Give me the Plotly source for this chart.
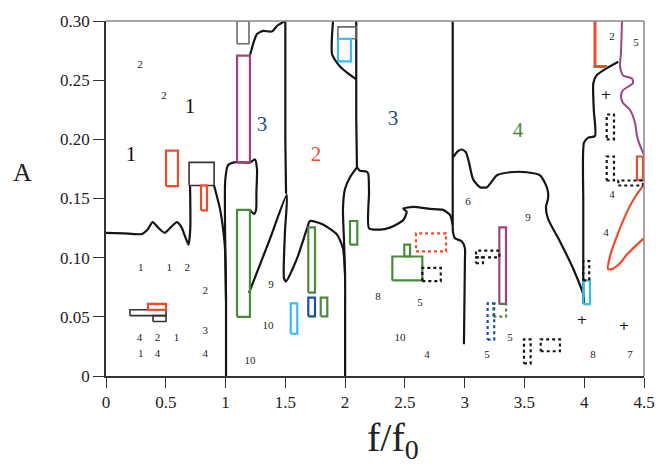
import plotly.graph_objects as go

# ---------------- data (in axis units) ----------------
x_ticks = [0, 0.5, 1, 1.5, 2, 2.5, 3, 3.5, 4, 4.5]
x_ticktext = ["0", "0.5", "1", "1.5", "2", "2.5", "3", "3.5", "4", "4.5"]
y_ticks = [0, 0.05, 0.10, 0.15, 0.20, 0.25, 0.30]
y_ticktext = ["0", "0.05", "0.10", "0.15", "0.20", "0.25", "0.30"]

# black boundary curves
c_left_x = [0, 0.15, 0.30, 0.35, 0.39, 0.44, 0.49, 0.545, 0.594, 0.63, 0.665, 0.69, 0.705, 0.703]
c_left_y = [0.121, 0.1205, 0.120, 0.124, 0.130, 0.125, 0.121, 0.126, 0.130, 0.126, 0.117, 0.111, 0.125, 0.161]
c_one_x = [0.904, 0.954, 0.979, 0.995, 1.004, 1.004]
c_one_y = [0.161, 0.141, 0.1245, 0.108, 0.0635, 0]
c_loop_x = [1.004, 0.996, 0.997, 1.02, 1.07, 1.204, 1.246, 1.263, 1.258, 1.256, 1.238, 1.204]
c_loop_y = [0.0635, 0.122, 0.165, 0.178, 0.1805, 0.1805, 0.183, 0.1745, 0.155, 0.141, 0.137, 0.1404]
c_top1_x = [1.204, 1.238, 1.263, 1.313, 1.371, 1.396, 1.43, 1.455, 1.497]
c_top1_y = [0.2708, 0.283, 0.289, 0.2917, 0.291, 0.2917, 0.2958, 0.2975, 0.30]
c_v15_x = [1.50, 1.50, 1.506]
c_v15_y = [0.30, 0.20, 0.154]
c_mid_x = [1.196, 1.372, 1.512, 1.497, 1.489, 1.506, 1.598, 1.681, 1.706, 1.815, 1.932, 1.982, 1.999, 2.0, 2.0]
c_mid_y = [0.0702, 0.116, 0.153, 0.122, 0.0827, 0.080, 0.0994, 0.1245, 0.131, 0.128, 0.1195, 0.108, 0.086, 0.05, 0]
c_top2_x = [1.899, 1.890, 1.890, 1.924, 1.957, 2.024, 2.093]
c_top2_y = [0.30, 0.2866, 0.2724, 0.2658, 0.2616, 0.2557, 0.2507]
c_v21_x = [2.093, 2.093, 2.099]
c_v21_y = [0.30, 0.22, 0.1763]
c_brA_x = [2.099, 2.041, 1.999, 1.982, 1.991, 2.0]
c_brA_y = [0.1763, 0.168, 0.158, 0.1412, 0.1137, 0.086]
c_brB_x = [2.099, 2.124, 2.18, 2.194, 2.200, 2.200, 2.292, 2.375, 2.442, 2.487, 2.515, 2.487, 2.57, 2.710, 2.819, 2.877, 2.90]
c_brB_y = [0.1763, 0.1735, 0.1727, 0.1707, 0.155, 0.1248, 0.1237, 0.1254, 0.1287, 0.1318, 0.1387, 0.1415, 0.1429, 0.1412, 0.1404, 0.1362, 0.128]
c_v29_x = [2.90, 2.90, 2.90, 2.902, 2.919, 2.977, 3.002, 3.002, 2.994]
c_v29_y = [0.30, 0.185, 0.135, 0.122, 0.1164, 0.1137, 0.108, 0.097, 0.0268]
c_wave_x = [2.902, 2.944, 2.977, 3.011, 3.036, 3.07, 3.128, 3.187, 3.27, 3.379, 3.521, 3.63, 3.68, 3.697, 3.697,
            3.68, 3.697, 3.797, 3.906, 3.99, 3.998]
c_wave_y = [0.1847, 0.190, 0.1914, 0.1889, 0.1805, 0.1663, 0.1596, 0.1596, 0.1696, 0.1722, 0.1722, 0.1696, 0.1613,
            0.1554, 0.1496, 0.1429, 0.1329, 0.1137, 0.0911, 0.0694, 0.0618]
c_four_x = [4.285, 4.188, 4.104, 4.076, 4.08, 4.09, 4.034, 3.998, 3.992, 3.992]
c_four_y = [0.2655, 0.260, 0.2543, 0.2474, 0.225, 0.2028, 0.2014, 0.1972, 0.147, 0.0611]

# coloured curves
purple_curve_x = [4.316, 4.307, 4.299, 4.324, 4.399, 4.408, 4.324, 4.307, 4.324, 4.383, 4.425, 4.441, 4.467, 4.5]
purple_curve_y = [0.30, 0.2724, 0.2616, 0.254, 0.2515, 0.2474, 0.2415, 0.2365, 0.2307, 0.2248, 0.2139, 0.2031, 0.1947, 0.187]
red_corner_x = [4.09, 4.09, 4.19]
red_corner_y = [0.30, 0.2616, 0.2616]
red_curve_x = [4.5, 4.425, 4.358, 4.257, 4.215, 4.199, 4.232, 4.299, 4.358, 4.5]
red_curve_y = [0.162, 0.1513, 0.1387, 0.1137, 0.1011, 0.0903, 0.0903, 0.0953, 0.1028, 0.1165]

# boxes (x0, x1, y0, y1)
red_boxes = [(0.502, 0.602, 0.1605, 0.1905), (0.795, 0.845, 0.140, 0.161),
             (0.351, 0.502, 0.056, 0.061), (4.441, 4.491, 0.1655, 0.1855)]
black_boxes = [(0.695, 0.904, 0.161, 0.1805), (0.20, 0.502, 0.051, 0.056), (0.393, 0.502, 0.046, 0.051)]
grey_boxes = [(1.096, 1.196, 0.2808, 0.30), (1.94, 2.091, 0.285, 0.295)]
purple_boxes = [(1.096, 1.204, 0.1805, 0.2708), (3.29, 3.346, 0.061, 0.1256)]
green_boxes = [(1.096, 1.204, 0.050, 0.1404), (1.692, 1.748, 0.0705, 0.1256), (2.041, 2.102, 0.111, 0.131),
               (1.796, 1.851, 0.0504, 0.0663), (2.395, 2.646, 0.0808, 0.101), (2.495, 2.543, 0.101, 0.111)]
blue_boxes = [(1.692, 1.748, 0.0504, 0.0663)]
cyan_boxes = [(1.545, 1.60, 0.0357, 0.0613), (1.94, 2.049, 0.2658, 0.285), (3.992, 4.048, 0.0608, 0.0808)]
red_dot_boxes = [(2.593, 2.844, 0.1053, 0.1206)]
black_dot_boxes = [(2.646, 2.80, 0.0802, 0.0913), (3.095, 3.29, 0.1003, 0.1059), (3.095, 3.153, 0.0953, 0.1003),
                   (3.496, 3.552, 0.0106, 0.031), (3.636, 3.797, 0.0209, 0.031), (3.992, 4.042, 0.0808, 0.097),
                   (4.188, 4.249, 0.200, 0.221), (4.188, 4.249, 0.1652, 0.1855), (4.285, 4.491, 0.161, 0.1652)]
green_dot_boxes = [(3.24, 3.346, 0.0501, 0.061)]
blue_dot_boxes = [(3.192, 3.247, 0.0307, 0.0613)]

# labels
small_lab_x = [0.284, 0.485, 0.29, 0.53, 0.68, 0.83, 0.83, 0.28, 0.43, 0.59, 0.29, 0.43, 0.83, 1.38, 1.355, 1.204,
               2.275, 2.626, 2.459, 2.685, 3.028, 3.53, 3.379, 3.187, 4.073, 4.383, 4.182, 4.232, 4.232, 4.433]
small_lab_y = [0.2624, 0.2365, 0.0913, 0.0913, 0.0913, 0.072, 0.0376, 0.032, 0.032, 0.032, 0.018, 0.018, 0.018,
               0.0769, 0.0418, 0.0125, 0.0669, 0.0618, 0.0318, 0.0175, 0.147, 0.133, 0.0318, 0.0175, 0.0175,
               0.0175, 0.121, 0.153, 0.2866, 0.281]
small_lab_t = ["2", "2", "1", "1", "2", "2", "3", "4", "2", "1", "1", "4", "4", "9", "10", "10",
               "8", "5", "10", "4", "6", "9", "5", "5", "8", "7", "4", "4", "2", "5"]
plus_x = [4.182, 3.98, 4.333]
plus_y = [0.2365, 0.0468, 0.0418]
plus_t = ["+", "+", "+"]
big_lab_x = [0.703, 0.209, 1.305, 1.756, 2.40, 3.446]
big_lab_y = [0.2265, 0.1864, 0.2114, 0.1864, 0.2165, 0.2064]
big_lab_t = ["1", "1", "3", "2", "3", "4"]
big_lab_c = ["#111111", "#111111", "#1a4fa0", "#ee4b2b", "#1a4fa0", "#4b8a3c"]

# ---------------- figure ----------------
FONT = "Liberation Serif, Times New Roman, serif"
BLACK = "#151515"
RED = "#ee4b2b"
PURPLE = "#9e437c"
GREEN = "#4b8a3c"
BLUE = "#1a4fa0"
CYAN = "#37bde8"
GREY = "#6a6a6a"

fig = go.Figure()


def add_curve(xs, ys, color=BLACK, width=2.2, smooth=0.6):
    fig.add_trace(go.Scatter(x=xs, y=ys, mode="lines", hoverinfo="skip",
                             line=dict(color=color, width=width, shape="spline", smoothing=smooth)))


def add_boxes(boxes, color, dash="solid", width=2.2):
    xs, ys = [], []
    for (x0, x1, y0, y1) in boxes:
        xs += [x0, x1, x1, x0, x0, None]
        ys += [y0, y0, y1, y1, y0, None]
    fig.add_trace(go.Scatter(x=xs, y=ys, mode="lines", hoverinfo="skip",
                             line=dict(color=color, width=width, dash=dash)))


for cx, cy in [(c_left_x, c_left_y), (c_one_x, c_one_y), (c_loop_x, c_loop_y), (c_top1_x, c_top1_y),
               (c_v15_x, c_v15_y), (c_mid_x, c_mid_y), (c_top2_x, c_top2_y), (c_v21_x, c_v21_y),
               (c_brA_x, c_brA_y), (c_brB_x, c_brB_y), (c_v29_x, c_v29_y), (c_wave_x, c_wave_y),
               (c_four_x, c_four_y)]:
    add_curve(cx, cy)

add_curve(purple_curve_x, purple_curve_y, color=PURPLE, width=2)
add_curve(red_curve_x, red_curve_y, color=RED, width=2.2)
fig.add_trace(go.Scatter(x=red_corner_x, y=red_corner_y, mode="lines", hoverinfo="skip",
                         line=dict(color=RED, width=3)))

add_boxes(black_boxes, "#333333", width=1.6)
add_boxes(grey_boxes, GREY, width=1.6)
add_boxes(red_boxes, RED)
add_boxes(purple_boxes, PURPLE)
add_boxes(green_boxes, GREEN)
add_boxes(blue_boxes, BLUE)
add_boxes(cyan_boxes, CYAN)
add_boxes(red_dot_boxes, RED, dash="dot")
add_boxes(black_dot_boxes, BLACK, dash="dot")
add_boxes(green_dot_boxes, GREEN, dash="dot")
add_boxes(blue_dot_boxes, BLUE, dash="dot")

fig.add_trace(go.Scatter(x=small_lab_x, y=small_lab_y, text=small_lab_t, mode="text", hoverinfo="skip",
                         textposition="middle center", textfont=dict(family=FONT, size=11, color="#222222")))
fig.add_trace(go.Scatter(x=plus_x, y=plus_y, text=plus_t, mode="text", hoverinfo="skip",
                         textposition="middle center", textfont=dict(family="DejaVu Sans", size=13, color="#111111")))
fig.add_trace(go.Scatter(x=big_lab_x, y=big_lab_y, text=big_lab_t, mode="text", hoverinfo="skip",
                         textposition="middle center", textfont=dict(family=FONT, size=21, color=big_lab_c)))

fig.update_layout(
    width=667, height=464,
    margin=dict(l=106, r=23, t=17, b=88),
    paper_bgcolor="white", plot_bgcolor="white",
    showlegend=False,
    font=dict(family=FONT, color="#222222"),
    xaxis=dict(range=[0, 4.5], tickvals=x_ticks, ticktext=x_ticktext, showgrid=False, zeroline=False,
               showline=True, linecolor="#333333", linewidth=1.5, ticks="outside", ticklen=10,
               tickcolor="#333333", tickwidth=1.3, tickfont=dict(family=FONT, size=17, color="#222222")),
    yaxis=dict(range=[0, 0.30], tickvals=y_ticks, ticktext=y_ticktext, showgrid=False, zeroline=False,
               showline=True, linecolor="#333333", linewidth=1.5, ticks="outside", ticklen=11,
               ticksuffix="\u2002\u2009",
               tickcolor="#333333", tickwidth=1.3, tickfont=dict(family=FONT, size=17, color="#222222")),
    shapes=[
        dict(type="line", xref="paper", yref="paper", x0=0, x1=1, y0=1, y1=1, line=dict(color="#8a8a8a", width=1.5)),
        dict(type="line", xref="paper", yref="paper", x0=1, x1=1, y0=0, y1=1, line=dict(color="#8a8a8a", width=1.5)),
    ],
    annotations=[
        dict(text="A", xref="paper", yref="paper", x=-0.156, y=0.573, xanchor="center", yanchor="middle",
             showarrow=False, font=dict(family=FONT, size=26, color="#222222")),
        dict(text="f/f<sub>0</sub>", xref="paper", yref="paper", x=0.533, y=-0.18, xanchor="center",
             yanchor="middle", showarrow=False, font=dict(family=FONT, size=40, color="#222222")),
    ],
)

fig.write_html("out.html")
